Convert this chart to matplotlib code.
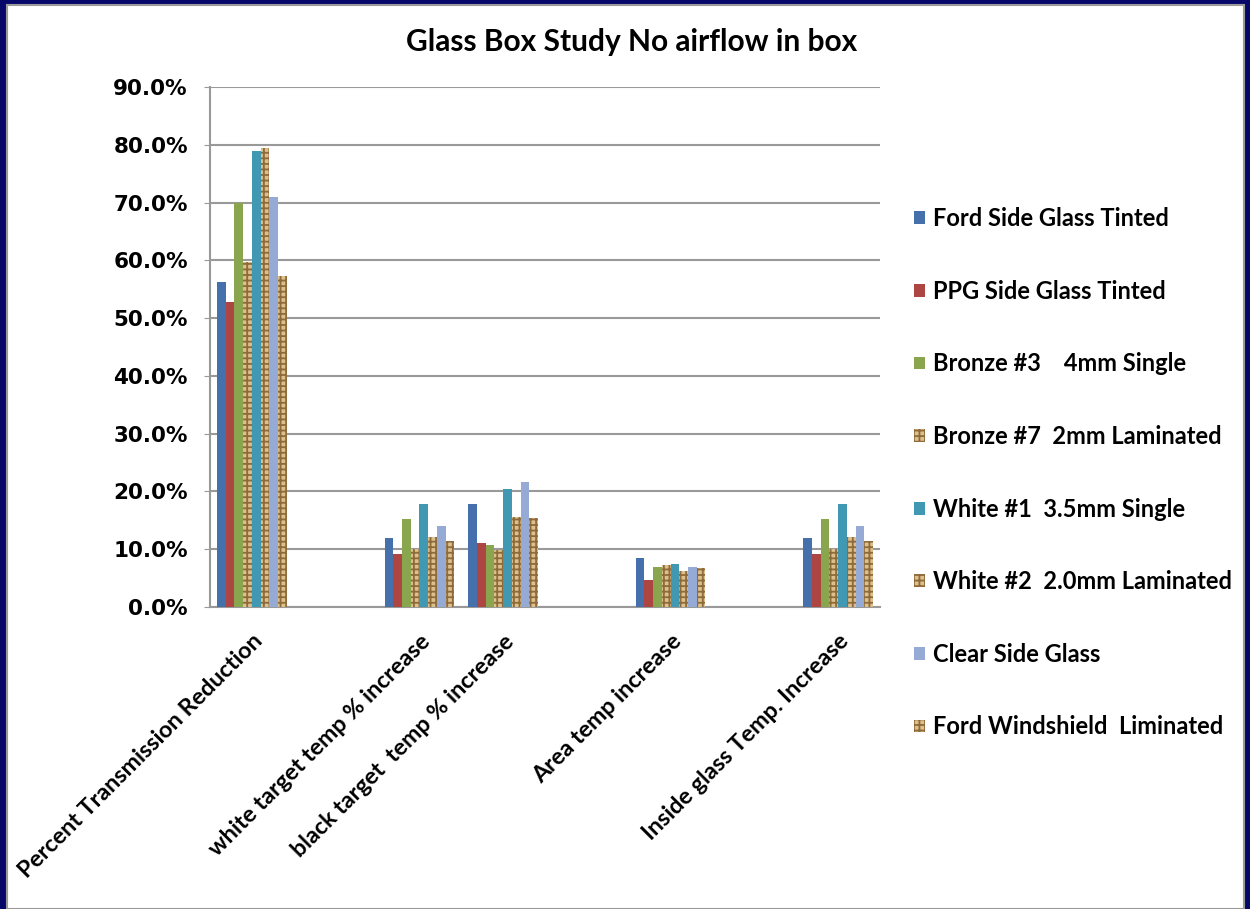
import numpy as np
import matplotlib
matplotlib.use("Agg")
import matplotlib.pyplot as plt
from matplotlib.patches import Rectangle

plt.rcParams['font.family'] = ['Lato', 'DejaVu Sans']
plt.rcParams['hatch.linewidth'] = 1.3

nan = np.nan
categories = ["Percent Transmission Reduction", "",
              "white target temp % increase", "black target  temp % increase", "",
              "Area temp increase", "",
              "Inside glass Temp. Increase"]

series_names = ["Ford Side Glass Tinted", "PPG Side Glass Tinted", "Bronze #3    4mm Single",
                "Bronze #7  2mm Laminated", "White #1  3.5mm Single", "White #2  2.0mm Laminated",
                "Clear Side Glass", "Ford Windshield  Liminated"]

ford_side = [56.2, nan, 11.9, 17.9, nan, 8.4, nan, 11.9]
ppg_side = [52.8, nan, 9.1, 11.0, nan, 4.6, nan, 9.1]
bronze3 = [70.0, nan, 15.2, 10.7, nan, 6.9, nan, 15.3]
bronze7 = [59.7, nan, 10.0, 9.9, nan, 7.2, nan, 10.0]
white1 = [78.9, nan, 17.9, 20.4, nan, 7.5, nan, 17.9]
white2 = [79.4, nan, 12.1, 15.6, nan, 6.2, nan, 12.2]
clear_side = [70.9, nan, 14.1, 21.6, nan, 6.9, nan, 14.1]
ford_ws = [57.3, nan, 11.4, 15.4, nan, 6.7, nan, 11.4]

all_series = [ford_side, ppg_side, bronze3, bronze7, white1, white2, clear_side, ford_ws]
colors = ['#4670AC', '#AD4542', '#89A54E', '#DCC08C', '#4198B2', '#DCC08C', '#96AAD6', '#DCC08C']
hatches = [None, None, None, '+++', None, '+++', None, '+++']

fig = plt.figure(figsize=(12.5, 9.09), dpi=100)
fig.patch.set_facecolor('#07076A')
bg = Rectangle((7/1250, 0), (1244-7)/1250, (909-5)/909,
               transform=fig.transFigure, facecolor='white',
               edgecolor='#9a9a9a', linewidth=1.5, zorder=-10)
fig.patches.append(bg)

ax = fig.add_axes([210/1250, 1-607/909, (880-210)/1250, (607-87)/909])
ax.set_facecolor('white')

x = np.arange(len(categories))
n = len(all_series)
w = 0.104
for i, (vals, c, h, name) in enumerate(zip(all_series, colors, hatches, series_names)):
    offs = (i - (n-1)/2) * w
    kw = dict(color=c, label=name, zorder=3, linewidth=0)
    if h:
        kw.update(hatch=h, edgecolor='#8F6A3A')
    ax.bar(x + offs, np.array(vals, dtype=float), w, **kw)

ax.set_xlim(-0.5, len(categories) - 0.5)
ax.set_ylim(0, 90)
ax.set_yticks(np.arange(0, 91, 10))
ax.set_yticklabels([f"{v:.1f}%" for v in np.arange(0, 91, 10)], fontsize=15.5,
                   fontweight='bold', family='DejaVu Sans')
ax.yaxis.grid(True, color='#999999', linewidth=1.5, zorder=0)
ax.set_axisbelow(True)
ax.tick_params(axis='y', length=4, color='#999999', pad=12)
ax.tick_params(axis='x', length=0, pad=17)
ax.set_xticks(x)
ax.set_xticklabels(categories, rotation=45, ha='right', rotation_mode='anchor',
                   fontsize=16.8, fontweight='bold')
for s in ['top', 'right']:
    ax.spines[s].set_visible(False)
for s in ['left', 'bottom']:
    ax.spines[s].set_color('#999999')
    ax.spines[s].set_linewidth(1.5)

fig.text(632/1250, 1-42/909, "Glass Box Study No airflow in box", ha='center', va='center',
         fontsize=21.5, fontweight='bold')

leg = fig.legend(loc='upper left', bbox_to_anchor=(893/1250, 1-186/909), frameon=False,
                 fontsize=17, handlelength=0.45, handleheight=0.45, handletextpad=0.35,
                 labelspacing=2.1)
for t in leg.get_texts():
    t.set_fontweight('bold')

fig.savefig('out.png', dpi=100, facecolor=fig.get_facecolor())
